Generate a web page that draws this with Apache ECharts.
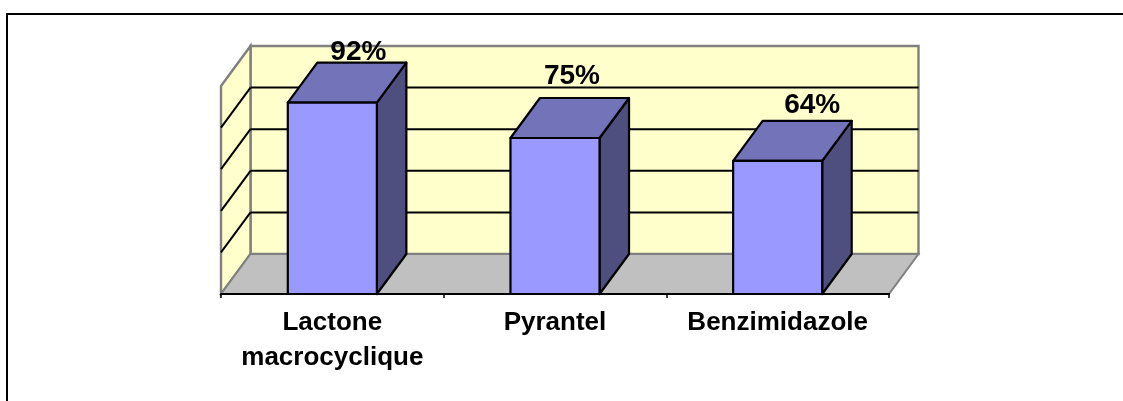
<!DOCTYPE html>
<html>
<head>
<meta charset="utf-8">
<title>Efficacite</title>
<script src="https://cdn.jsdelivr.net/npm/echarts@6/dist/echarts.min.js"></script>
<style>
  html, body { margin: 0; padding: 0; background: #fff; }
  #chart { width: 1123px; height: 401px; }
</style>
</head>
<body>
<div id="chart"></div>
<script>
const categories = ['Lactone\nmacrocyclique', 'Pyrantel', 'Benzimidazole'];
const values = [92, 75, 64];
const gridTicks = [20, 40, 60, 80];
const yMax = 100;

// 3d look: how far the back plane sits from the front plane, in px
const depthX = 29.5;
const depthY = -40;
// the data labels were moved by hand in the original
const labelShift = [[26, 3.3], [17, -8], [34.5, -1.7]];

const fontFamily = '"Liberation Sans", Arial, sans-serif';
const wallStyle = { fill: '#FFFFCC', stroke: '#808080', lineWidth: 2.4 };

const renderWalls = (params) => {
  const { x, y, width, height } = params.coordSys;
  const bottom = y + height;
  const right = x + width;
  return {
    type: 'group',
    children: [
      { type: 'polygon', shape: { points: [[x + depthX, y + depthY], [right + depthX, y + depthY], [right + depthX, bottom + depthY], [x + depthX, bottom + depthY]] }, style: wallStyle },
      { type: 'polygon', shape: { points: [[x, y], [x + depthX, y + depthY], [x + depthX, bottom + depthY], [x, bottom]] }, style: wallStyle },
      { type: 'polygon', shape: { points: [[x, bottom], [x + depthX, bottom + depthY], [right + depthX, bottom + depthY], [right, bottom]] }, style: { fill: '#C0C0C0', stroke: '#808080', lineWidth: 2 } }
    ]
  };
};

const renderGridLine = (params, api) => {
  const { x, width } = params.coordSys;
  const yFront = api.coord([0, api.value(0)])[1];
  const yBack = yFront + depthY;
  const line = { stroke: '#000', lineWidth: 2 };
  return {
    type: 'group',
    children: [
      { type: 'line', shape: { x1: x, y1: yFront, x2: x + depthX, y2: yBack }, style: line },
      { type: 'line', shape: { x1: x + depthX, y1: yBack, x2: x + width + depthX, y2: yBack }, style: line }
    ]
  };
};

const renderBar = (params, api) => {
  const i = api.value(0);
  const top = api.coord([i, api.value(1)]);
  const base = api.coord([i, 0]);
  const w = api.size([1, 0])[0] * 0.4;
  const l = top[0] - w / 2;
  const r = top[0] + w / 2;
  const edge = { stroke: '#000', lineWidth: 2.2, lineJoin: 'round' };
  const shift = labelShift[i];
  return {
    type: 'group',
    children: [
      { type: 'polygon', shape: { points: [[r, top[1]], [r + depthX, top[1] + depthY], [r + depthX, base[1] + depthY], [r, base[1]]] }, style: { fill: '#4F4F7F', ...edge } },
      { type: 'polygon', shape: { points: [[l, top[1]], [l + depthX, top[1] + depthY], [r + depthX, top[1] + depthY], [r, top[1]]] }, style: { fill: '#7373B9', ...edge } },
      { type: 'rect', shape: { x: l, y: top[1], width: w, height: base[1] - top[1] }, style: { fill: '#9999FF', ...edge } },
      {
        type: 'text',
        x: top[0] + shift[0],
        y: top[1] + depthY + shift[1],
        style: { text: api.value(1) + '%', fill: '#000', font: 'bold 28px ' + fontFamily, textAlign: 'center', textVerticalAlign: 'bottom' }
      }
    ]
  };
};

const chart = echarts.init(document.getElementById('chart'));
chart.setOption({
  animation: false,
  backgroundColor: '#fff',
  grid: { left: 221, top: 86, width: 668, height: 208 },
  xAxis: {
    type: 'category',
    data: categories,
    z: 10,
    axisLine: { lineStyle: { color: '#000', width: 2 } },
    axisTick: { show: true, length: 4, lineStyle: { color: '#000', width: 1.5 } },
    axisLabel: { color: '#000', fontFamily, fontWeight: 'bold', fontSize: 26, lineHeight: 35, margin: 11, interval: 0 }
  },
  yAxis: { type: 'value', min: 0, max: yMax, show: false },
  graphic: [
    { type: 'line', shape: { x1: 6, y1: 14, x2: 1123, y2: 14 }, style: { stroke: '#000', lineWidth: 2 } },
    { type: 'line', shape: { x1: 7, y1: 13, x2: 7, y2: 401 }, style: { stroke: '#000', lineWidth: 2 } }
  ],
  series: [
    { type: 'custom', z: 1, silent: true, data: [[0]], renderItem: renderWalls },
    { type: 'custom', z: 2, silent: true, data: gridTicks.map(v => [v]), encode: { y: 0 }, renderItem: renderGridLine },
    { type: 'custom', z: 3, silent: true, data: values.map((v, i) => [i, v]), encode: { x: 0, y: 1 }, renderItem: renderBar }
  ]
});
</script>
</body>
</html>
